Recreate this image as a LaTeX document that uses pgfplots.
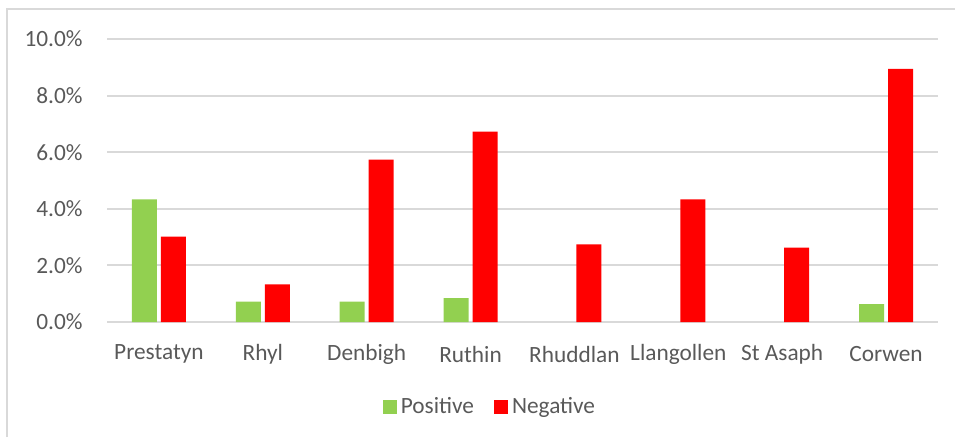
\documentclass[border=0pt]{standalone}
\usepackage{pgfplots}
\pgfplotsset{compat=1.18}
\usepackage{fontspec}
\setmainfont{Carlito}
\definecolor{posg}{HTML}{92D050}
\definecolor{negr}{HTML}{FF0000}
\definecolor{txtg}{HTML}{595959}
\definecolor{gridg}{HTML}{D9D9D9}
\begin{document}
\begin{tikzpicture}[x=1bp,y=1bp]
\useasboundingbox (0,0) rectangle (477.5,218.5);
\draw[gridg, line width=0.75bp] (3.5,0) -- (3.5,214) -- (477.5,214);
\begin{axis}[
  at={(53.5bp,57.5bp)}, anchor=south west,
  scale only axis, width=415.5bp, height=141.5bp,
  ybar=2bp, bar width=12.5bp,
  xmin=-0.5, xmax=7.5, ymin=0, ymax=10,
  enlargelimits=false,
  xtick={0,...,7},
  xticklabels={Prestatyn,Rhyl,Denbigh,Ruthin,Rhuddlan,Llangollen,St Asaph,Corwen},
  ytick={0,2,4,6,8,10},
  yticklabel={\pgfmathprintnumber[fixed,fixed zerofill,precision=1]{\tick}\%},
  /pgf/number format/assume math mode=true,
  axis line style={draw=none},
  major tick length=0pt,
  ymajorgrids, grid style={gridg, line width=1bp},
  tick label style={font=\fontsize{11.7}{14}\selectfont, text=txtg},
  x tick label style={anchor=center, yshift=-16bp},
  y tick label style={anchor=east, inner sep=0pt, xshift=-12bp},
  legend style={at={(0.462,-0.300)}, anchor=center, draw=none, fill=none,
    legend columns=2, font=\fontsize{11.7}{14}\selectfont, text=txtg,
    /tikz/every even column/.append style={column sep=8bp}},
  legend image code/.code={\fill[#1] (0bp,-3.5bp) rectangle (7bp,3.5bp);},
]
\addplot[fill=posg, draw=none] coordinates {(0,4.33) (1,0.72) (2,0.72) (3,0.84) (7,0.63)};
\addplot[fill=negr, draw=none] coordinates {(0,3.02) (1,1.33) (2,5.74) (3,6.73) (4,2.74) (5,4.33) (6,2.63) (7,8.94)};
\legend{Positive,Negative}
\end{axis}
\end{tikzpicture}
\end{document}
